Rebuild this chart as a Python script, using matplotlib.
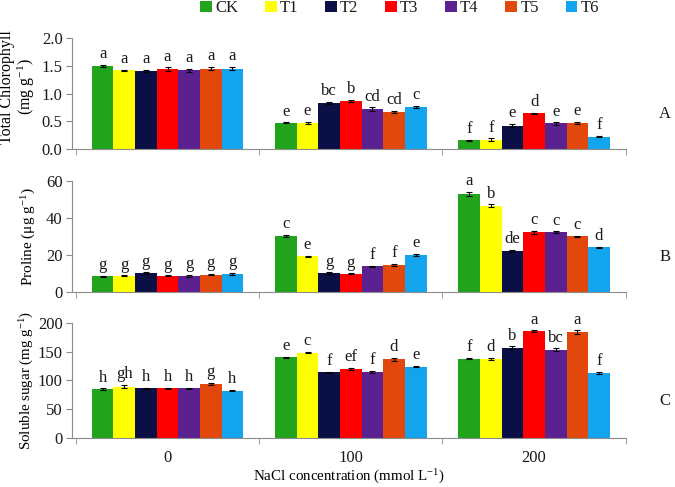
# -*- coding: utf-8 -*-
# Chlorophyll, proline and soluble sugar under NaCl treatments

import numpy as np
import matplotlib
matplotlib.use('Agg')
import matplotlib.pyplot as plt
from matplotlib.patches import Patch
from matplotlib import rcParams

# %% Set-up

rcParams['font.family'] = ['Liberation Serif', 'DejaVu Serif']
rcParams['mathtext.fontset'] = 'custom'
rcParams['mathtext.rm'] = 'Liberation Serif'
rcParams['mathtext.it'] = 'Liberation Serif:italic'
rcParams['font.size'] = 10.5
rcParams['xtick.labelsize'] = 12
rcParams['ytick.labelsize'] = 12
rcParams['text.color'] = '#1a1a1a'
rcParams['axes.edgecolor'] = '#8c8c8c'
rcParams['xtick.color'] = '#8c8c8c'
rcParams['ytick.color'] = '#8c8c8c'
rcParams['xtick.labelcolor'] = '#1a1a1a'
rcParams['ytick.labelcolor'] = '#1a1a1a'

#Treatments and colours
treatments = ['CK', 'T1', 'T2', 'T3', 'T4', 'T5', 'T6']
colours = ['#21a31c', '#ffff00', '#0a0f45', '#ff0000', '#5b2191', '#e2470b', '#13a4ee']

#NaCl levels (groups)
nacl = ['0', '100', '200']

#Total chlorophyll (mg g-1), rows = treatment, columns = NaCl level
chl = [[1.49, 0.47, 0.16],
       [1.42, 0.47, 0.17],
       [1.41, 0.83, 0.42],
       [1.44, 0.87, 0.64],
       [1.42, 0.72, 0.46],
       [1.45, 0.66, 0.47],
       [1.45, 0.75, 0.22]]
chlErr = [[0.02, 0.01, 0.01],
          [0.01, 0.02, 0.02],
          [0.02, 0.02, 0.03],
          [0.03, 0.02, 0.01],
          [0.03, 0.03, 0.02],
          [0.03, 0.02, 0.02],
          [0.03, 0.02, 0.01]]
chlLet = [['a', 'e', 'f'],
          ['a', 'e', 'f'],
          ['a', 'bc', 'e'],
          ['a', 'b', 'd'],
          ['a', 'cd', 'e'],
          ['a', 'cd', 'e'],
          ['a', 'c', 'f']]

#Proline (ug g-1)
pro = [[8.5, 30.5, 53.2],
       [8.8, 19.3, 46.7],
       [10.3, 10.3, 22.2],
       [8.8, 9.9, 32.4],
       [8.9, 14.0, 32.4],
       [9.5, 14.8, 30.2],
       [9.8, 20.2, 24.2]]
proErr = [[0.4, 0.5, 1.0],
          [0.3, 0.2, 0.7],
          [0.4, 0.4, 0.5],
          [0.3, 0.3, 0.8],
          [0.5, 0.3, 0.5],
          [0.3, 0.4, 0.4],
          [0.5, 0.7, 0.3]]
proLet = [['g', 'c', 'a'],
          ['g', 'e', 'b'],
          ['g', 'g', 'de'],
          ['g', 'g', 'c'],
          ['g', 'f', 'c'],
          ['g', 'f', 'c'],
          ['g', 'e', 'd']]

#Soluble sugar (mg g-1)
sug = [[85, 140, 138],
       [89, 148, 137],
       [86, 114, 157],
       [86, 120, 186],
       [86, 114, 153],
       [94, 137, 184],
       [82, 124, 113]]
sugErr = [[1.0, 1.0, 1.0],
          [2.5, 1.0, 1.5],
          [1.5, 1.0, 2.0],
          [1.5, 1.5, 1.0],
          [1.0, 2.0, 2.5],
          [2.0, 2.5, 3.0],
          [1.0, 1.0, 1.5]]
sugLet = [['h', 'e', 'f'],
          ['gh', 'c', 'd'],
          ['h', 'f', 'b'],
          ['h', 'ef', 'a'],
          ['h', 'f', 'bc'],
          ['g', 'd', 'a'],
          ['h', 'e', 'f']]

# %% Create figure

fig = plt.figure(figsize = (6.75, 4.87), dpi = 100)

#Panel definitions: data, errors, letters, y-limit, ticks, label, label size, label x/y, axes rect, tag
panels = [(chl, chlErr, chlLet, 2.0, np.arange(0, 2.01, 0.5), 'Total Chlorophyll\n(mg g$^{-1}$)', 11.5,
           (-0.063, 0.56), [0.107, 0.694, 0.82, 0.228], 'A', '%.1f'),
          (pro, proErr, proLet, 60, np.arange(0, 61, 20), 'Proline (μg g$^{-1}$)', 11,
           (-0.062, 0.5), [0.107, 0.400, 0.82, 0.228], 'B', '%d'),
          (sug, sugErr, sugLet, 200, np.arange(0, 201, 50), 'Soluble sugar (mg g$^{-1}$)', 10.8,
           (-0.066, 0.5), [0.107, 0.101, 0.82, 0.236], 'C', '%d')]

#Bar geometry
barW = 0.118
nT = len(treatments)
groupX = np.arange(len(nacl))

for pp, (vals, errs, lets, ymax, yticks, ylab, labSize, labXY, rect, tag, fmt) in enumerate(panels):
    ax = fig.add_axes(rect)
    for tt in range(nT):
        xPos = groupX + (tt - (nT - 1) / 2) * barW
        ax.bar(xPos, vals[tt], width = barW, color = colours[tt], zorder = 2)
        ax.errorbar(xPos, vals[tt], yerr = errs[tt], fmt = 'none', ecolor = 'black',
                    elinewidth = 0.8, capsize = 2.5, capthick = 0.8, zorder = 3)
        #Significance letters
        for gg in range(len(nacl)):
            ax.annotate(lets[tt][gg], (xPos[gg], vals[tt][gg] + errs[tt][gg]),
                        xytext = (0, 2), textcoords = 'offset points',
                        ha = 'center', va = 'bottom', fontsize = 12)

    ax.set_xlim(-0.52, 2.5)
    ax.set_ylim(0, ymax)
    ax.set_yticks(yticks)
    ax.set_yticklabels([fmt % v for v in yticks])
    #Group boundaries as minor ticks, group names on major ticks
    ax.set_xticks(groupX)
    ax.set_xticks([-0.5, 0.5, 1.5, 2.5], minor = True)
    ax.tick_params(axis = 'x', which = 'major', length = 0, pad = 9)
    ax.tick_params(axis = 'x', which = 'minor', length = 4, direction = 'out')
    ax.tick_params(axis = 'y', length = 4, direction = 'out', pad = 3)
    if pp == 2:
        ax.set_xticklabels(nacl)
        ax.set_xlabel('NaCl concentration (mmol L$^{-1}$)', labelpad = 1, fontsize = 10.8)
    else:
        ax.set_xticklabels([])

    ax.set_ylabel(ylab, linespacing = 1.05, fontsize = labSize)
    ax.yaxis.set_label_coords(*labXY)

    ax.spines['top'].set_visible(False)
    ax.spines['right'].set_visible(False)

    #Panel tag, sitting a little below the panel centre
    fig.text(0.985, rect[1] + rect[3] / 2 - 0.042, tag, ha = 'center', va = 'center', fontsize = 12)

#Legend at top
handles = [Patch(facecolor = colours[ii], label = treatments[ii]) for ii in range(nT)]
fig.legend(handles = handles, loc = 'upper center', bbox_to_anchor = (0.592, 1.03), ncol = nT,
           frameon = False, fontsize = 12, handlelength = 0.7, handleheight = 0.7,
           handletextpad = 0.2, columnspacing = 1.6)

plt.savefig('out.png', dpi = 100, facecolor = 'white')
